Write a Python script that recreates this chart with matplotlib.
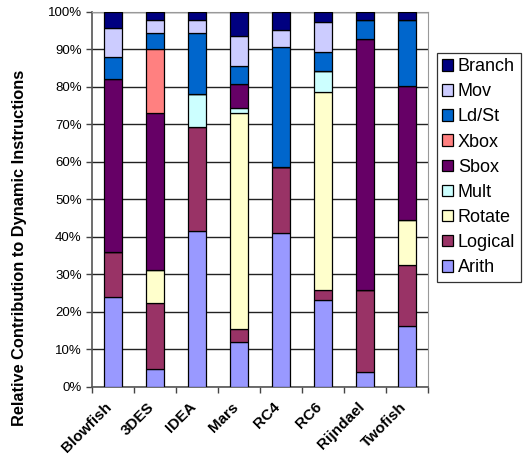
import matplotlib
matplotlib.use("Agg")
import matplotlib.pyplot as plt
import matplotlib.transforms as mtransforms
from matplotlib.ticker import FixedLocator, PercentFormatter

plt.rcParams["font.family"] = ["Liberation Sans", "DejaVu Sans"]

ciphers = ["Blowfish", "3DES", "IDEA", "Mars", "RC4", "RC6", "Rijndael", "Twofish"]

# percent of dynamic instructions, stacked bottom -> top
arith = [24.0, 4.6, 41.6, 11.8, 40.9, 23.1, 3.8, 16.2]
logical = [12.0, 17.7, 27.8, 3.6, 17.8, 2.7, 22.0, 16.3]
rotate = [0, 8.8, 0, 57.6, 0, 52.8, 0, 12.0]
mult = [0, 0, 8.6, 1.4, 0, 5.7, 0, 0]
sbox = [46.2, 41.9, 0, 6.4, 0, 0, 67.0, 35.7]
xbox = [0, 17.0, 0, 0, 0, 0, 0, 0]
ldst = [5.7, 4.3, 16.3, 4.9, 31.9, 5.1, 5.1, 17.7]
mov = [7.7, 3.6, 3.6, 7.9, 4.6, 7.8, 0, 0]
branch = [4.4, 2.1, 2.1, 6.4, 4.8, 2.8, 2.1, 2.1]

series = [
    ("Arith", arith, "#9999FF"),
    ("Logical", logical, "#993366"),
    ("Rotate", rotate, "#FFFFCC"),
    ("Mult", mult, "#CCFFFF"),
    ("Sbox", sbox, "#660066"),
    ("Xbox", xbox, "#FF8080"),
    ("Ld/St", ldst, "#0066CC"),
    ("Mov", mov, "#CCCCFF"),
    ("Branch", branch, "#000080"),
]

fig = plt.figure(figsize=(5.24, 4.59), dpi=100)
ax = fig.add_axes([0.1756, 0.1575, 0.6412, 0.8164])

x = list(range(len(ciphers)))
bottom = [0.0] * len(ciphers)
for name, vals, col in series:
    ax.bar(x, vals, width=0.43, bottom=bottom, color=col, edgecolor="black",
           linewidth=0.9, label=name, zorder=3)
    bottom = [b + v for b, v in zip(bottom, vals)]

ax.set_xlim(-0.5, len(ciphers) - 0.5)
ax.set_ylim(0, 100)
ax.yaxis.set_major_locator(FixedLocator(range(0, 101, 10)))
ax.yaxis.set_major_formatter(PercentFormatter(decimals=0))
ax.grid(axis="y", color="#222222", linewidth=1.0, zorder=0)

# category ticks sit between the bars, labels under the bars
ax.set_xticks([i - 0.5 for i in range(len(ciphers) + 1)])
ax.set_xticklabels([])
ax.set_xticks(x, minor=True)
ax.set_xticklabels(ciphers, minor=True, rotation=45, ha="right",
                   rotation_mode="anchor", fontsize=11, fontweight="bold")
ax.tick_params(axis="x", which="minor", length=0, pad=8)
ax.tick_params(axis="x", which="major", length=4, width=1, color="#444444")
ax.tick_params(axis="y", length=4, width=1, color="#444444", labelsize=9.5)

shift = mtransforms.ScaledTranslation(-0.08, -0.02, fig.dpi_scale_trans)
for lbl in ax.get_xticklabels(minor=True):
    lbl.set_transform(lbl.get_transform() + shift)

for side in ["left", "bottom"]:
    ax.spines[side].set_color("#555555")
    ax.spines[side].set_linewidth(1.2)
for side in ["top", "right"]:
    ax.spines[side].set_color("#999999")
    ax.spines[side].set_linewidth(0.8)

fig.text(0.038, 0.46, "Relative Contribution to Dynamic Instructions",
         rotation=90, ha="center", va="center", fontsize=11.8, fontweight="bold")

handles, labels = ax.get_legend_handles_labels()
leg = fig.legend(handles[::-1], labels[::-1], loc="upper left",
                 bbox_to_anchor=(0.834, 0.885), fontsize=13, frameon=True,
                 fancybox=False, edgecolor="black", handlelength=0.6,
                 handleheight=0.6, handletextpad=0.25, labelspacing=0.45,
                 borderpad=0.3, borderaxespad=0)
leg.get_frame().set_linewidth(0.9)

fig.savefig("out.png", dpi=100)
